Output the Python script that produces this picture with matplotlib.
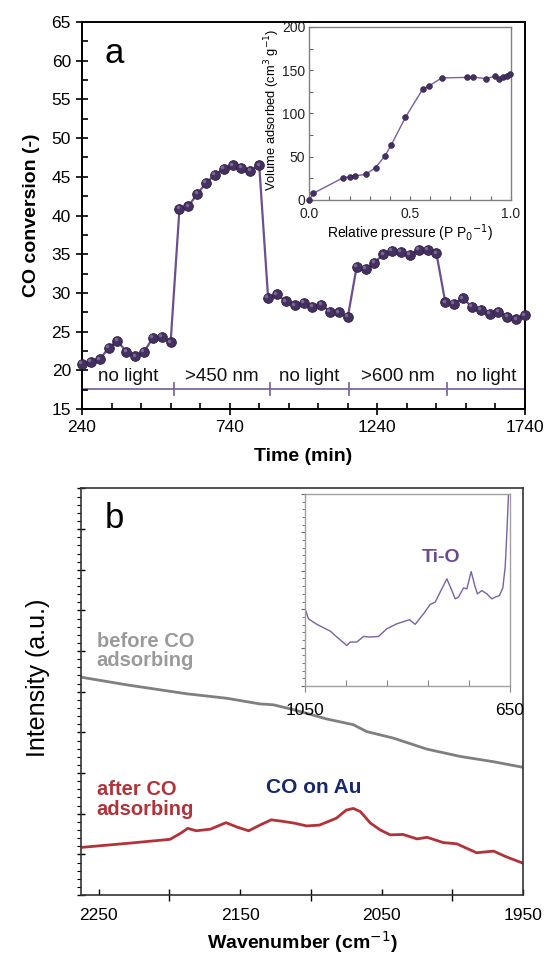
import numpy as np
import matplotlib
matplotlib.use("Agg")
import matplotlib.pyplot as plt
from matplotlib.ticker import MultipleLocator, FixedLocator
from matplotlib.transforms import ScaledTranslation

plt.rcParams['font.family'] = ['Liberation Sans', 'DejaVu Sans']

# --- panel a: CO conversion vs time ---
time_min = list(range(240, 1741, 30))
co_conv = [20.8, 21.1, 21.4, 22.9, 23.8, 22.4, 21.8, 22.4, 24.2, 24.3, 23.6,
           40.9, 41.2, 42.8, 44.2, 45.3, 46.0, 46.5, 46.2, 45.8, 46.5,
           29.4, 29.8, 28.9, 28.4, 28.7, 28.2, 28.5, 27.6, 27.5, 26.9,
           33.4, 33.1, 33.9, 35.0, 35.4, 35.3, 34.9, 35.6, 35.6, 35.1,
           28.8, 28.6, 29.3, 28.2, 27.8, 27.3, 27.6, 26.9, 26.6, 27.1]
light_edges = [550, 875, 1145, 1475]
light_labels = ['no light', '>450 nm', 'no light', '>600 nm', 'no light']
light_level = 17.6

# inset a: N2 isotherm
rel_p = [0.0, 0.02, 0.166, 0.202, 0.227, 0.281, 0.329, 0.376, 0.407, 0.477,
         0.563, 0.596, 0.657, 0.781, 0.815, 0.876, 0.921, 0.944, 0.964, 0.980, 0.997]
vol_ads = [0, 7.7, 25.5, 27, 27.8, 29.7, 37.5, 51, 63.7, 95.4,
           128.2, 132, 141, 141.7, 142, 140.2, 142.9, 139.8, 141.7, 142.9, 145.2]

# --- panel b: IR spectra ---
wn_before = [2262.6, 2230.1, 2187.7, 2159.5, 2135.9, 2126.6, 2112.4, 2088.8,
             2070.1, 2060.6, 2041.8, 2018.2, 1994.7, 1971.2, 1950]
int_before = [5.36, 5.17, 4.95, 4.84, 4.70, 4.68, 4.56, 4.33,
              4.19, 4.02, 3.86, 3.59, 3.41, 3.28, 3.14]
wn_after = [2262.6, 2230, 2199.5, 2192, 2187, 2181, 2171, 2160, 2152, 2144, 2136,
            2128, 2119.5, 2112, 2103, 2094, 2082, 2075, 2070, 2065, 2058, 2051,
            2044, 2035, 2025, 2018, 2006.5, 1997, 1983, 1971, 1962, 1950]
int_after = [1.17, 1.27, 1.37, 1.52, 1.64, 1.58, 1.62, 1.78, 1.67, 1.58, 1.72,
             1.85, 1.81, 1.77, 1.70, 1.72, 1.89, 2.09, 2.13, 2.05, 1.77, 1.60,
             1.48, 1.49, 1.38, 1.42, 1.29, 1.26, 1.04, 1.08, 0.94, 0.78]

# inset b: low wavenumber region
wn_low = [1050, 1042.2, 1025.9, 999.9, 986.9, 967.4, 960.9, 947.9, 934.9, 921.9,
          905.6, 889.4, 869.8, 850.3, 845.1, 834.1, 817.8, 804.8, 795.0, 785.3,
          772.3, 762.5, 756.0, 749.5, 739.8, 733.3, 724.8, 717.0, 712.5, 704.0,
          694.3, 684.5, 678.0, 669.6, 663.1, 658.5, 655.3, 652.0]
int_low = [4.11, 3.50, 3.21, 2.86, 2.55, 2.11, 2.29, 2.29, 2.58, 2.55,
           2.58, 2.98, 3.24, 3.41, 3.45, 3.21, 3.76, 4.25, 4.37, 4.89,
           5.58, 4.97, 4.54, 4.63, 5.11, 5.06, 5.96, 5.15, 4.80, 4.97,
           4.80, 4.54, 4.63, 4.71, 5.11, 6.19, 7.92, 10.0]

fig = plt.figure(figsize=(5.46, 9.55), dpi=100)

# ---------------- panel a ----------------
ax = fig.add_axes([0.1502, 0.5717, 0.8114, 0.4052])
ax.plot(time_min, co_conv, color='#6b4f8f', lw=1.6, zorder=2, clip_on=False)
ax.plot(time_min, co_conv, 'o', ms=7, mfc='#45315f', mec='#2e1f45', mew=0.6,
        zorder=3, clip_on=False)
hl = ax.transData + ScaledTranslation(-1.2 / 72, 1.2 / 72, fig.dpi_scale_trans)
ax.plot(time_min, co_conv, 'o', ms=2.5, mfc='#8a74a8', mec='none',
        transform=hl, zorder=4, clip_on=False, alpha=0.8)

ax.axhline(light_level, color='#7d6a9e', lw=1.3, zorder=1)
for e in light_edges:
    ax.plot([e, e], [light_level - 0.75, light_level + 0.75], color='#7d6a9e', lw=1.3)
bounds = [240] + light_edges + [1740]
for i, lab in enumerate(light_labels):
    ax.text((bounds[i] + bounds[i + 1]) / 2, light_level + 0.55, lab,
            ha='center', va='bottom', fontsize=13.5, color='#111111')

ax.set_xlim(240, 1740)
ax.set_ylim(15, 65)
ax.set_xticks([240, 740, 1240, 1740])
ax.xaxis.set_minor_locator(FixedLocator([x for x in range(340, 1740, 100) if (x - 240) % 500]))
ax.yaxis.set_major_locator(MultipleLocator(5))
ax.yaxis.set_minor_locator(MultipleLocator(2.5))
ax.tick_params(which='major', direction='inout', length=8, width=1.2, labelsize=12.5, pad=4)
ax.tick_params(which='minor', direction='in', length=4, width=1.2)
for s in ax.spines.values():
    s.set_linewidth(1.4)
ax.set_xlabel('Time (min)', fontsize=14, fontweight='bold', labelpad=9)
ax.set_ylabel('CO conversion (-)', fontsize=14, fontweight='bold', labelpad=8)
ax.text(0.05, 0.92, 'a', transform=ax.transAxes, fontsize=25, va='center', ha='left')

# inset a
axi = fig.add_axes([0.5665, 0.7906, 0.3689, 0.1812])
axi.plot(rel_p, vol_ads, color='#7a5ea0', lw=1.0, zorder=2)
axi.plot(rel_p, vol_ads, 'o', ms=4.2, mfc='#45315f', mec='#2e1f45', mew=0.4,
         zorder=3, clip_on=False)
axi.set_xlim(0, 1)
axi.set_ylim(0, 200)
axi.set_xticks([0, 0.5, 1.0])
axi.set_xticklabels(['0.0', '0.5', '1.0'])
axi.xaxis.set_minor_locator(MultipleLocator(0.1))
axi.yaxis.set_major_locator(MultipleLocator(50))
axi.yaxis.set_minor_locator(MultipleLocator(25))
axi.tick_params(which='both', direction='in', length=3, width=0.8, color='#666666',
                labelsize=10, labelcolor='#222222', pad=3)
axi.tick_params(axis='x', which='major', pad=5)
for s in axi.spines.values():
    s.set_color('#808080')
    s.set_linewidth(1.0)
axi.set_xlabel('Relative pressure (P P$_0$$^{-1}$)', fontsize=10, labelpad=1)
axi.set_ylabel('Volume adsorbed (cm$^3$ g$^{-1}$)', fontsize=9.3, labelpad=2)
axi.yaxis.set_label_coords(-0.135, 0.52)

# ---------------- panel b ----------------
bx = fig.add_axes([0.1478, 0.0628, 0.8106, 0.4257])
bx.plot(wn_before, int_before, color='#7f7f7f', lw=2.0)
bx.plot(wn_after, int_after, color='#b3323a', lw=2.0)
bx.set_xlim(2262.6, 1950)
bx.set_ylim(0, 10)
bx.set_xticks([2250, 2150, 2050, 1950])
bx.xaxis.set_minor_locator(FixedLocator([2200, 2100, 2000]))
bx.yaxis.set_major_locator(MultipleLocator(1))
bx.yaxis.set_minor_locator(MultipleLocator(0.2))
bx.set_yticklabels([])
bx.tick_params(axis='x', which='major', direction='in', length=4, width=1.0,
               labelsize=12.5, pad=9)
bx.tick_params(axis='x', which='minor', direction='inout', length=9, width=1.0)
bx.tick_params(axis='y', which='major', direction='inout', length=6, width=1.0)
bx.tick_params(axis='y', which='minor', direction='out', length=3, width=0.8)
for s in bx.spines.values():
    s.set_color('#333333')
    s.set_linewidth(1.2)
bx.set_xlabel('Wavenumber (cm$^{-1}$)', fontsize=14, fontweight='bold', labelpad=5)
bx.set_ylabel('Intensity (a.u.)', fontsize=18, labelpad=12)
bx.yaxis.set_label_coords(-0.07, 0.535)
bx.text(0.055, 0.925, 'b', transform=bx.transAxes, fontsize=25, va='center', ha='left')
bx.text(0.036, 0.60, 'before CO\nadsorbing', transform=bx.transAxes, fontsize=14.5,
        fontweight='bold', color='#9a9a9a', va='center', ha='left', linespacing=1.05)
bx.text(0.036, 0.235, 'after CO\nadsorbing', transform=bx.transAxes, fontsize=14.5,
        fontweight='bold', color='#b3323a', va='center', ha='left', linespacing=1.05)
bx.text(2132, 2.65, 'CO on Au', fontsize=15, fontweight='bold', color='#17296b',
        va='center', ha='left')

# inset b
bxi = fig.add_axes([0.5577, 0.2817, 0.3755, 0.2010])
bxi.plot(wn_low, int_low, color='#7a62a0', lw=1.0)
bxi.set_xlim(1050, 650)
bxi.set_ylim(0, 10)
bxi.set_xticks([1050, 650])
bxi.xaxis.set_minor_locator(FixedLocator([970, 890, 810, 730]))
bxi.yaxis.set_major_locator(MultipleLocator(2))
bxi.yaxis.set_minor_locator(MultipleLocator(0.4))
bxi.set_yticklabels([])
bxi.tick_params(axis='x', which='major', direction='out', length=4, width=0.8,
                color='#888888', labelsize=12.5, pad=8)
bxi.tick_params(axis='x', which='minor', direction='in', length=4, width=0.8, color='#888888')
bxi.tick_params(axis='y', which='major', direction='out', length=3, width=0.8, color='#666666')
bxi.tick_params(axis='y', which='minor', direction='out', length=2, width=0.6, color='#666666')
for s in bxi.spines.values():
    s.set_color('#a0a0a0')
    s.set_linewidth(1.0)
bxi.text(0.57, 0.67, 'Ti-O', transform=bxi.transAxes, fontsize=14, fontweight='bold',
         color='#6b4a8f', va='center', ha='left')

fig.savefig('out.png', dpi=100)
